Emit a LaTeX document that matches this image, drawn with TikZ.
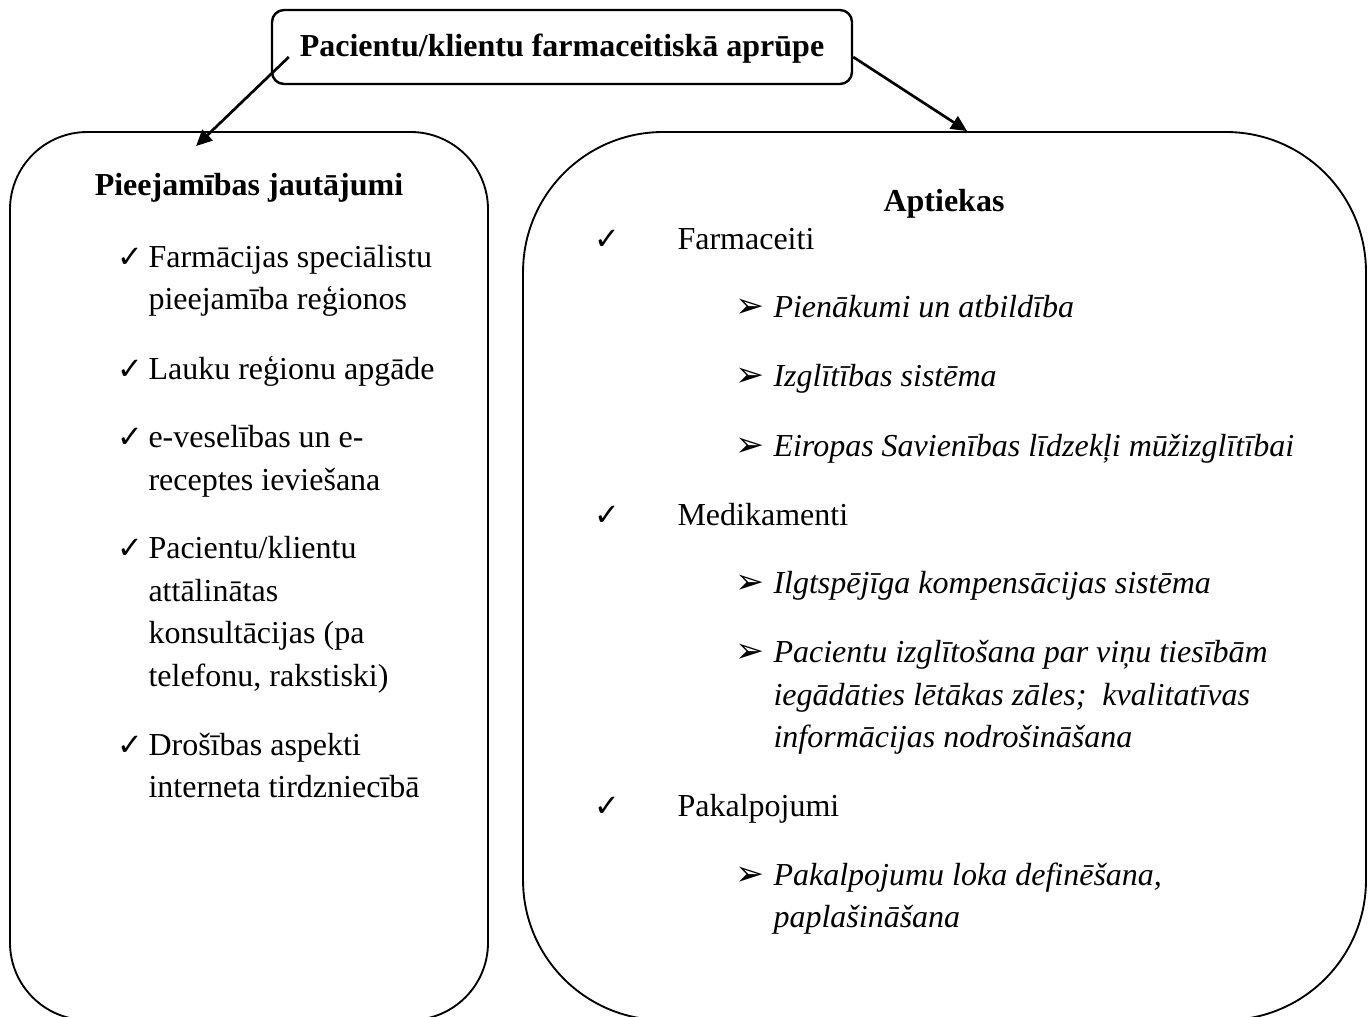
\documentclass[tikz,border=0pt]{standalone}
\usepackage{fontspec}
\setmainfont{Liberation Serif}
\newfontfamily\symfont{DejaVu Sans}
\usetikzlibrary{arrows.meta}
\begin{document}
\begin{tikzpicture}[x=0.375pt,y=-0.375pt,
  font=\fontsize{12}{15}\selectfont,
  bigbox/.style={draw,line width=0.7pt,inner sep=0pt},
  txt/.style={anchor=base west,inner sep=0pt},
  hd/.style={anchor=base,inner sep=0pt,font=\fontsize{12}{15}\selectfont\bfseries},
  it/.style={anchor=base west,inner sep=0pt,font=\fontsize{12}{15}\selectfont\itshape},
  chk/.style={anchor=base,inner sep=0pt,font=\fontsize{11.5}{15}\symfont},
  arw/.style={anchor=base,inner sep=0pt,font=\fontsize{13}{15}\symfont},
  conn/.style={line width=1pt,-{Triangle[length=6pt,width=5.5pt]}}]
\clip (0,0) rectangle (1371,1016);
\useasboundingbox (0,0) rectangle (1371,1016);
% boxes
\node (title) [bigbox,line width=0.9pt,rounded corners=4.5pt,minimum width=217.5pt,minimum height=27.75pt] at (562,47) {};
\node[hd] (titletxt) at (562,56) {Pacientu/klientu farmaceitiskā aprūpe};
\node (leftbox) [bigbox,rounded corners=29pt,minimum width=179.25pt,minimum height=333pt] at (249,576) {};
\node (rightbox) [bigbox,rounded corners=52.5pt,minimum width=316.1pt,minimum height=333pt] at (944.5,576) {};
% connectors
\draw[conn] ([shift={(18,10)}]title.west) -- ([shift={(187,15)}]leftbox.north west);
\draw[conn] ([shift={(0,10)}]title.east) -- ([shift={(445,0)}]rightbox.north west);
% left box content
\node[hd] (lh) at (249,195) {Pieejamības jautājumi};
\node[chk] (lc1) at (130,267) {✓};
\node[txt] (l1a) at (148,267) {Farmācijas speciālistu};
\node[txt] (l1b) at (148,309) {pieejamība reģionos};
\node[chk] (lc2) at (130,379) {✓};
\node[txt] (l2) at (148,379) {Lauku reģionu apgāde};
\node[chk] (lc3) at (130,447) {✓};
\node[txt] (l3a) at (148,447) {e-veselības un e-};
\node[txt] (l3b) at (148,490) {receptes ieviešana};
\node[chk] (lc4) at (130,558) {✓};
\node[txt] (l4a) at (148,558) {Pacientu/klientu};
\node[txt] (l4b) at (148,601) {attālinātas};
\node[txt] (l4c) at (148,643) {konsultācijas (pa};
\node[txt] (l4d) at (148,686) {telefonu, rakstiski)};
\node[chk] (lc5) at (130,755) {✓};
\node[txt] (l5a) at (148,755) {Drošības aspekti};
\node[txt] (l5b) at (148,797) {interneta tirdzniecībā};
% right box content
\node[hd] (rh) at (944,211) {Aptiekas};
\node[chk] (rc1) at (607,249) {✓};
\node[txt] (r1) at (677,249) {Farmaceiti};
\node[arw] (ra1) at (750,317) {➢};
\node[it] (r1a) at (773,317) {Pienākumi un atbildība};
\node[arw] (ra2) at (750,386) {➢};
\node[it] (r1b) at (773,386) {Izglītības sistēma};
\node[arw] (ra3) at (750,456) {➢};
\node[it] (r1c) at (773,456) {Eiropas Savienības līdzekļi mūžizglītībai};
\node[chk] (rc2) at (607,525) {✓};
\node[txt] (r2) at (677,525) {Medikamenti};
\node[arw] (ra4) at (750,593) {➢};
\node[it] (r2a) at (773,593) {Ilgtspējīga kompensācijas sistēma};
\node[arw] (ra5) at (750,662) {➢};
\node[it] (r2b1) at (773,662) {Pacientu izglītošana par viņu tiesībām};
\node[it] (r2b2) at (773,705) {iegādāties lētākas zāles;\ \ kvalitatīvas};
\node[it] (r2b3) at (773,747) {informācijas nodrošināšana};
\node[chk] (rc3) at (607,816) {✓};
\node[txt] (r3) at (677,816) {Pakalpojumi};
\node[arw] (ra6) at (750,885) {➢};
\node[it] (r3a1) at (773,885) {Pakalpojumu loka definēšana,};
\node[it] (r3a2) at (773,927) {paplašināšana};
\end{tikzpicture}
\end{document}
